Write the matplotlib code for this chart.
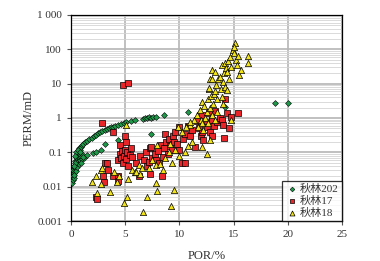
import matplotlib
matplotlib.use("Agg")
import matplotlib.pyplot as plt
from matplotlib.ticker import FixedLocator, LogLocator, NullFormatter

# 秋林202
por_202 = [0.1, 0.15, 0.2, 0.25, 0.3, 0.2, 0.35, 0.4, 0.3, 0.45, 0.5, 0.4, 0.55, 0.6, 0.5, 0.65,
           0.7, 0.6, 0.75, 0.8, 0.7, 0.9, 1.0, 0.3, 0.45, 0.55, 0.7, 0.8, 0.9, 1.0, 0.35, 0.25,
           0.5, 0.6, 0.4, 1.1, 1.2, 0.85, 0.95,
           1.1, 1.3, 1.5, 1.7, 1.9, 2.1, 2.3, 2.5, 2.7, 2.9, 3.1, 3.3, 3.5, 3.7, 3.9, 4.1, 4.3,
           4.6, 4.9, 5.1, 5.5, 5.9,
           6.6, 6.8, 7.0, 7.2, 7.4, 7.6, 7.8, 8.6,
           1.1, 1.5, 2.0, 2.3, 2.8, 3.1, 4.3, 7.4,
           10.8, 12.8, 14.2, 18.8, 20.0]
perm_202 = [0.013, 0.016, 0.02, 0.018, 0.025, 0.03, 0.03, 0.035, 0.04, 0.045, 0.05, 0.055, 0.06, 0.07, 0.075, 0.08,
            0.09, 0.1, 0.11, 0.12, 0.13, 0.14, 0.16, 0.022, 0.028, 0.038, 0.045, 0.06, 0.075, 0.065, 0.05, 0.04,
            0.1, 0.12, 0.08, 0.085, 0.07, 0.1, 0.05,
            0.18, 0.2, 0.22, 0.25, 0.27, 0.3, 0.33, 0.36, 0.38, 0.42, 0.45, 0.48, 0.5, 0.53, 0.56, 0.6, 0.62,
            0.68, 0.72, 0.78, 0.82, 0.87,
            0.95, 1.0, 0.98, 1.05, 1.0, 1.1, 1.05, 1.2,
            0.075, 0.085, 0.095, 0.1, 0.115, 0.18, 0.23, 0.34,
            1.45, 0.87, 2.05, 2.8, 2.7]

# 秋林17
por_17 = [2.3, 2.4, 2.9, 3.0, 2.95, 3.1, 3.3, 3.4, 3.9, 3.9, 4.3, 4.3, 4.5, 4.3, 4.5, 4.6, 4.7, 4.8,
          4.9, 5.0, 5.0, 5.1, 5.2, 5.3, 5.4, 5.5, 5.6, 5.1, 4.8, 5.3, 6.3, 6.0, 6.4, 6.7, 6.9, 7.0,
          7.2, 7.3, 7.3, 7.4, 7.5, 7.7, 7.8, 8.0, 8.1, 8.3, 8.4, 8.5, 8.6, 8.7, 8.8, 8.9, 9.0, 9.1,
          9.3, 9.4, 9.5, 9.6, 9.8, 10.0, 10.0, 10.2, 10.5, 10.3, 10.5, 10.8, 11.0, 11.2, 11.4, 11.6,
          11.8, 12.0, 12.1, 12.1, 12.2, 12.4, 12.5, 12.7, 12.8, 13.0, 13.0, 13.2, 13.5, 13.7, 13.9,
          14.0, 14.1, 14.2, 14.4, 15.4, 14.8, 14.6, 13.3]
perm_17 = [0.005, 0.0045, 0.73, 0.014, 0.02, 0.048, 0.05, 0.031, 0.4, 0.02, 0.02, 0.015, 0.16, 0.06, 0.09, 0.07, 0.11, 0.05,
           0.08, 0.12, 0.29, 0.065, 0.1, 0.04, 0.085, 0.13, 0.074, 0.2, 9.2, 10.7, 0.02, 0.05, 0.08, 0.06, 0.1, 0.04,
           0.053, 0.13, 0.024, 0.146, 0.07, 0.09, 0.06, 0.11, 0.05, 0.16, 0.02, 0.075, 0.13, 0.34, 0.2, 0.09, 0.25, 0.15,
           0.12, 0.3, 0.2, 0.4, 0.17, 0.55, 0.12, 0.048, 0.05, 0.25, 0.35, 0.6, 0.3, 0.45, 0.14, 0.8,
           0.5, 0.3, 0.4, 1.22, 0.23, 0.7, 0.55, 1.37, 0.4, 0.29, 0.9, 0.6, 0.75, 0.98, 0.87,
           0.63, 0.27, 3.5, 1.37, 1.37, 1.1, 0.5, 1.6]

# 秋林18
por_18 = [1.9, 2.3, 2.4, 2.8, 2.8, 2.9, 3.6, 4.0, 4.2, 4.4, 4.9, 5.2, 5.3, 5.6, 5.9, 6.0, 6.3, 6.4,
          6.6, 7.0, 7.2, 7.5, 7.8, 7.8, 7.9, 8.2, 8.5, 8.7, 9.2, 9.5, 9.0, 9.3, 9.6, 10.0, 10.5, 10.8,
          11.2, 12.5, 5.1, 7.9, 6.5, 9.1, 12.1, 12.8,
          11.0, 11.3, 11.6, 11.9, 12.1, 12.3, 12.5, 12.6, 12.7, 12.7, 12.8, 12.8, 12.9, 13.0, 13.0,
          13.1, 13.2, 13.3, 13.3, 13.4, 13.5, 13.6, 13.7, 13.8, 13.9, 13.9, 14.0, 14.1, 14.2, 14.2,
          14.3, 14.4, 14.4, 14.5, 14.6, 14.7, 14.8, 14.9, 15.0, 15.1, 15.0, 15.2, 15.3, 15.4, 15.5,
          15.7, 16.3, 16.3, 12.4, 12.0, 13.0, 11.7, 12.2, 13.5, 14.0, 12.6, 10.2, 9.9, 10.6,
          13.3, 14.8, 12.1, 11.0]
perm_18 = [0.014, 0.02, 0.0064, 0.03, 0.012, 0.034, 0.007, 0.027, 0.014, 0.02, 0.0034, 0.005, 0.017, 0.03, 0.027, 0.027, 0.043, 0.023,
           0.0018, 0.005, 0.035, 0.06, 0.0125, 0.043, 0.0076, 0.045, 0.03, 0.07, 0.0027, 0.008, 0.1, 0.05, 0.12, 0.08, 0.1, 0.15,
           0.2, 0.089, 0.62, 0.16, 0.034, 0.18, 0.146, 0.23,
           0.63, 0.9, 1.2, 1.7, 3.0, 2.2, 1.5, 3.5, 6.9, 7.3, 1.9, 13.4, 4.5, 25, 13.4,
           2.5, 5.0, 22, 5.9, 9, 3.5, 13.7, 16, 7, 35, 4.2, 11, 20, 39, 8,
           28, 22, 6.6, 45, 14, 60, 30, 95, 80, 150, 120, 50, 35, 64, 18,
           25, 64, 41, 1.0, 0.9, 1.2, 0.55, 0.45, 1.5, 2.5, 0.7, 0.4, 0.56, 0.56,
           0.87, 0.9, 0.73, 0.78]

serif = ["Liberation Serif", "Noto Sans CJK SC"]
plt.rcParams["font.family"] = serif

fig = plt.figure(figsize=(3.8, 2.61), dpi=100)
ax = fig.add_axes([0.187, 0.153, 0.713, 0.79])

ax.scatter(por_202, perm_202, marker="D", s=9, facecolor="#1f9a4a", edgecolor="black", linewidth=0.4,
           label="秋林202", zorder=3)
ax.scatter(por_17, perm_17, marker="s", s=20, facecolor="#e8262a", edgecolor="black", linewidth=0.5,
           label="秋林17", zorder=3)
ax.scatter(por_18, perm_18, marker="^", s=20, facecolor="#f2e416", edgecolor="black", linewidth=0.5,
           label="秋林18", zorder=4)

ax.set_yscale("log")
ax.set_xlim(0, 25)
ax.set_ylim(0.001, 1000)
ax.set_xticks([0, 5, 10, 15, 20, 25])
ax.yaxis.set_major_locator(FixedLocator([0.001, 0.01, 0.1, 1, 10, 100, 1000]))
ax.set_yticklabels(["0.001", "0.01", "0.1", "1", "10", "100", "1 000"])
ax.yaxis.set_minor_locator(LogLocator(base=10, subs=range(2, 10)))
ax.yaxis.set_minor_formatter(NullFormatter())

ax.grid(True, which="major", color="#b5b5b5", linewidth=1.2)
ax.grid(True, which="minor", axis="y", color="#d4d4d4", linewidth=0.6)
ax.set_axisbelow(True)

ax.tick_params(which="major", length=3, labelsize=8, labelcolor="#333333", color="#555555")
ax.tick_params(which="minor", length=0)
for s in ax.spines.values():
    s.set_linewidth(0.9)

ax.set_xlabel("POR/%", fontsize=9, color="#333333", labelpad=8)
ax.set_ylabel("PERM/mD", fontsize=9, color="#333333", labelpad=2)

leg = ax.legend(loc="lower right", fontsize=8, frameon=True, fancybox=False, borderaxespad=0,
                handletextpad=0.1, borderpad=0.3, labelspacing=0.15, handlelength=1.2,
                markerscale=0.8)
leg.get_frame().set_edgecolor("black")
leg.get_frame().set_linewidth(0.9)
for t in leg.get_texts():
    t.set_color("#333333")

fig.savefig("out.png", dpi=100)
